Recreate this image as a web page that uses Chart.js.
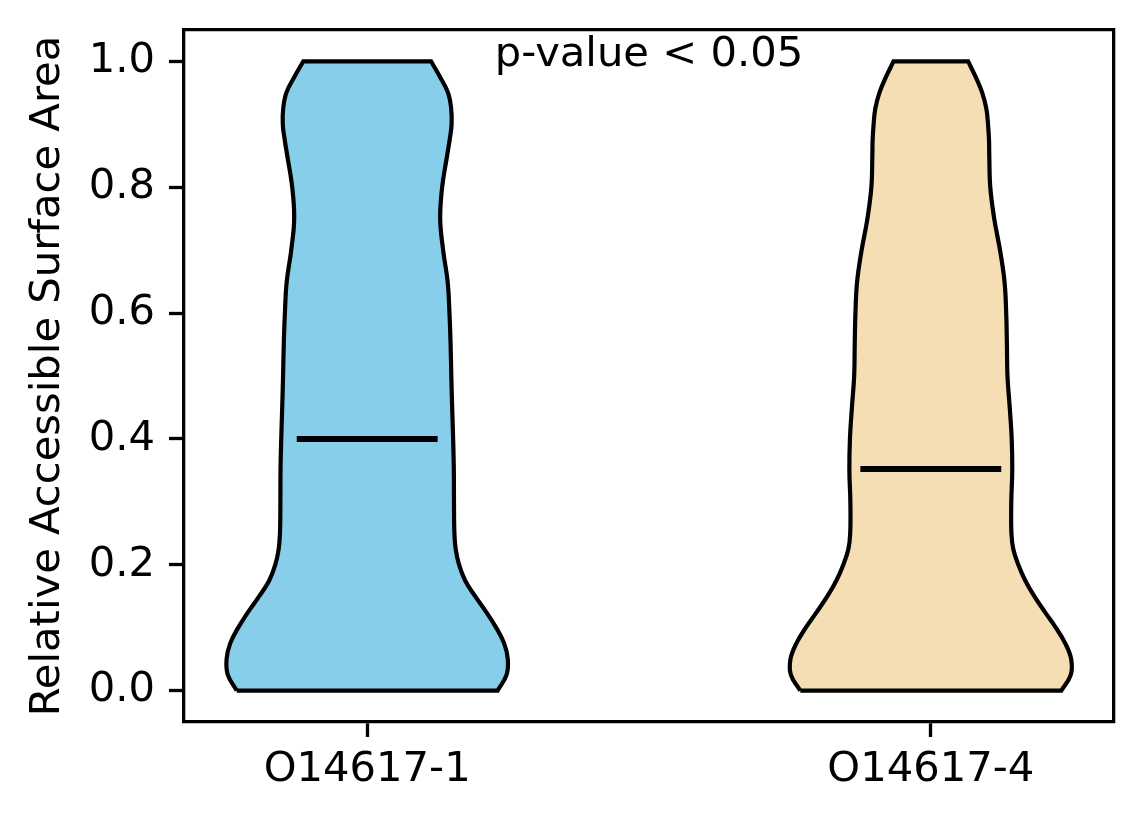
<!DOCTYPE html>
<html>
<head>
<meta charset="utf-8">
<script src="https://cdn.jsdelivr.net/npm/chart.js@4.4.1/dist/chart.umd.min.js"></script>
<style>
  html, body { margin: 0; padding: 0; background: #fff; }
  #wrap { width: 1144px; height: 824px; position: relative; }
</style>
</head>
<body>
<div id="wrap"><canvas id="chart"></canvas></div>
<script>
// groups on the x axis
const categories = ['O14617-1', 'O14617-4'];
const positions = [1, 2];

const yLevels = [0, 0.025, 0.05, 0.075, 0.1, 0.125, 0.15, 0.175, 0.2, 0.225, 0.25,
  0.3, 0.35, 0.4, 0.45, 0.5, 0.55, 0.6, 0.65, 0.7, 0.75, 0.8,
  0.85, 0.875, 0.9, 0.925, 0.95, 0.975, 1.0];

// relative density (1 = widest point) at each level
const density1 = [0.926, 0.989, 0.998, 0.972, 0.915, 0.844, 0.766, 0.695, 0.652, 0.628, 0.619,
  0.616, 0.615, 0.610, 0.603, 0.597, 0.592, 0.584, 0.571, 0.539, 0.518, 0.532,
  0.567, 0.585, 0.599, 0.596, 0.574, 0.518, 0.454];
const density2 = [0.926, 0.993, 0.996, 0.954, 0.887, 0.809, 0.734, 0.670, 0.621, 0.585, 0.572,
  0.571, 0.578, 0.574, 0.560, 0.544, 0.540, 0.535, 0.523, 0.491, 0.450, 0.422,
  0.415, 0.413, 0.406, 0.394, 0.365, 0.319, 0.265];

const medians = [0.40, 0.352];

const yTicks = [0, 0.2, 0.4, 0.6, 0.8, 1.0];
const yTickLabels = ['0.0', '0.2', '0.4', '0.6', '0.8', '1.0'];

const note = 'p-value < 0.05';
const colors = ['#87CEEB', '#F5DEB3'];

const halfWidth = 0.25;   // violin widths 0.5
const FONT = 41.7;

Chart.defaults.font.family = '"DejaVu Sans", sans-serif';
Chart.defaults.color = '#000';

// closed outline: bottom edge, right side up, top edge, left side down
// corners are doubled so the spline keeps them sharp
function outline(pos, dens) {
  const n = yLevels.length;
  const R = i => ({ x: pos + halfWidth * dens[i], y: yLevels[i] });
  const L = i => ({ x: pos - halfWidth * dens[i], y: yLevels[i] });
  const pts = [L(0), R(0), R(0)];
  for (let i = 1; i < n - 1; i++) pts.push(R(i));
  pts.push(R(n - 1), R(n - 1), L(n - 1), L(n - 1));
  for (let i = n - 2; i > 0; i--) pts.push(L(i));
  pts.push(L(0), L(0));
  return pts;
}

const datasets = [];
positions.forEach((pos, k) => {
  datasets.push({
    data: outline(pos, k === 0 ? density1 : density2),
    showLine: true,
    fill: 'shape',
    backgroundColor: colors[k],
    borderColor: '#000',
    borderWidth: 4.2,
    tension: 0.4,
    pointRadius: 0,
    order: 2
  });
  datasets.push({
    data: [{ x: pos - halfWidth / 2, y: medians[k] }, { x: pos + halfWidth / 2, y: medians[k] }],
    showLine: true,
    fill: false,
    borderColor: '#000',
    borderWidth: 6,
    borderCapStyle: 'butt',
    tension: 0,
    pointRadius: 0,
    order: 0
  });
});

const notePlugin = {
  id: 'note',
  afterDraw(chart) {
    const { ctx, chartArea, scales } = chart;
    ctx.save();
    ctx.font = FONT + 'px "DejaVu Sans"';
    ctx.fillStyle = '#000';
    ctx.textAlign = 'center';
    ctx.textBaseline = 'alphabetic';
    ctx.fillText(note, (chartArea.left + chartArea.right) / 2, scales.y.getPixelForValue(1.0) + 5);
    ctx.restore();
  }
};

const frame = { display: true, color: '#000', width: 3.3 };

// keep the tick labels from pushing the plot area around
function noPad(s) {
  s.paddingTop = 0; s.paddingBottom = 0; s.paddingLeft = 0; s.paddingRight = 0;
}

new Chart(document.getElementById('chart'), {
  type: 'scatter',
  data: { datasets },
  plugins: [notePlugin],
  options: {
    responsive: true,
    maintainAspectRatio: false,
    animation: false,
    layout: { padding: { top: 30, right: 30, left: 0, bottom: 0 } },
    plugins: { legend: { display: false }, tooltip: { enabled: false } },
    scales: {
      x: {
        type: 'linear', position: 'bottom', min: 0.675, max: 2.325,
        afterBuildTicks: s => { s.ticks = positions.map(v => ({ value: v })); },
        afterFit: s => { s.height = 102; noPad(s); },
        ticks: {
          callback: (v, i) => categories[i],
          font: { size: FONT }, color: '#000', padding: 8, autoSkip: false, maxRotation: 0
        },
        grid: { display: true, drawOnChartArea: false, drawTicks: true, tickLength: 15, tickWidth: 3.3, tickColor: '#000' },
        border: frame
      },
      y: {
        type: 'linear', position: 'left', min: -0.05, max: 1.05,
        afterBuildTicks: s => { s.ticks = yTicks.map(v => ({ value: v })); },
        afterFit: s => { s.width = 184; noPad(s); },
        ticks: {
          callback: (v, i) => yTickLabels[i],
          font: { size: FONT }, color: '#000', padding: 14
        },
        grid: { display: true, drawOnChartArea: false, drawTicks: true, tickLength: 15, tickWidth: 3.3, tickColor: '#000' },
        border: frame,
        title: {
          display: true, text: 'Relative Accessible Surface Area', color: '#000',
          font: { size: FONT }, padding: { top: 23, bottom: 0 }
        }
      },
      xTop: {
        type: 'linear', position: 'top',
        ticks: { display: false }, grid: { display: false }, border: frame,
        afterFit: s => { s.height = 0; noPad(s); }
      },
      yRight: {
        type: 'linear', position: 'right',
        ticks: { display: false }, grid: { display: false }, border: frame,
        afterFit: s => { s.width = 0; noPad(s); }
      }
    }
  }
});
</script>
</body>
</html>
